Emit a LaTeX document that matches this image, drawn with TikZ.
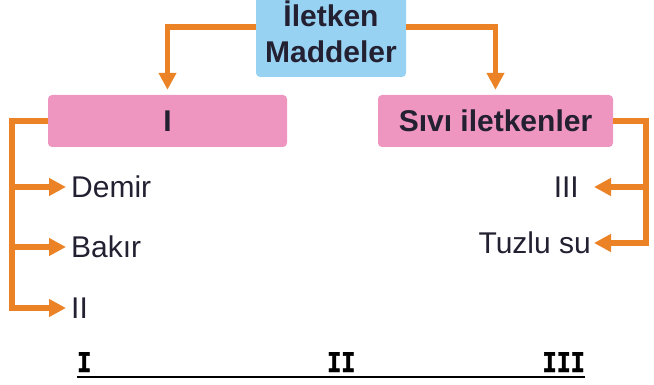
\documentclass[tikz,border=0pt]{standalone}
\usepackage{fontspec}
\setmainfont{Liberation Sans}
\newfontfamily\romfont[FakeStretch=0.78,FakeBold=1.5]{Liberation Mono}
\usetikzlibrary{arrows.meta}

\definecolor{turuncu}{RGB}{236,130,38}
\definecolor{mavi}{RGB}{152,210,242}
\definecolor{pembe}{RGB}{238,150,192}
\definecolor{yazi}{RGB}{35,32,50}

\tikzset{
  kutu/.style={rounded corners=4pt, inner sep=0pt, text=yazi,
    font=\fontsize{30}{36}\selectfont\bfseries, align=center},
  madde/.style={text=yazi, font=\fontsize{30}{36}\selectfont,
    inner xsep=5pt, inner ysep=0pt, text height=21.5pt, text depth=0pt},
  cizgi/.style={draw=turuncu, line width=5.5pt},
  ok/.style={cizgi, -{Triangle[length=17pt,width=17pt]}},
  romen/.style={font=\fontsize{30}{30}\selectfont\romfont\bfseries, inner sep=0pt}
}

\begin{document}
\begin{tikzpicture}[x=1pt,y=-1pt]
  \useasboundingbox (0,0) rectangle (654,385) ;

  % ust kutu
  \node[kutu, fill=mavi, minimum width=150pt, minimum height=90pt] at (331,32) (maddeler) {İletken\\Maddeler} ;

  % pembe kutular
  \node[kutu, fill=pembe, minimum width=239pt, minimum height=52pt] at (167.5,121) (kati) {I} ;
  \node[kutu, fill=pembe, minimum width=235pt, minimum height=52pt] at (495.5,121) (sivi) {Sıvı iletkenler} ;

  \draw[ok, shorten >=5pt] (maddeler.west |- 0,27) -| (kati.north) ;
  \draw[ok, shorten >=5pt] (maddeler.east |- 0,27) -| (sivi.north) ;

  % sol liste
  \node[madde, anchor=west] at (66,187) (demir) {Demir} ;
  \node[madde, anchor=west] at (66,247) (bakir) {Bakır} ;
  \node[madde, anchor=west] at (66,308) (iki) {II} ;
  \coordinate (solalt) at (12,308) ;
  \draw[ok] (kati.west) -| (solalt) -- (iki.west) ;
  \draw[ok] (solalt |- demir.west) -- (demir.west) ;
  \draw[ok] (solalt |- bakir.west) -- (bakir.west) ;

  % sag liste
  \node[madde, anchor=east, inner xsep=15pt] at (594,187) (uc) {III} ;
  \node[madde, anchor=east, inner xsep=3pt] at (594,243) (tuzlu) {Tuzlu su} ;
  \coordinate (sagalt) at (646,243) ;
  \draw[ok] (sivi.east) -| (sagalt) -- (tuzlu.east) ;
  \draw[ok] (sagalt |- uc.east) -- (uc.east) ;

  % alt satir
  \node[romen, anchor=base west] at (77,372) (r1) {I} ;
  \node[romen, anchor=base west] at (327,372) (r2) {II} ;
  \node[romen, anchor=base east] at (585,372) (r3) {III} ;
  \draw[line width=2.5pt] (r1.west |- 0,377) -- (r3.east |- 0,377) ;
\end{tikzpicture}
\end{document}
